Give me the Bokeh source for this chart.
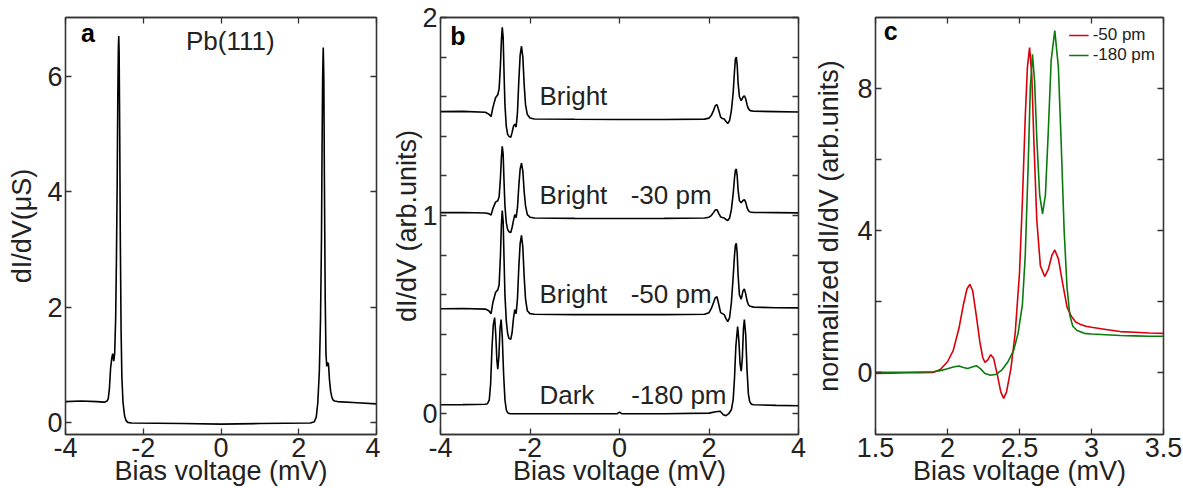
from bokeh.plotting import figure
from bokeh.models import LinearAxis, FixedTicker, Label, Legend, LegendItem, Range1d
from bokeh.layouts import row
from bokeh.embed import file_html
from bokeh.resources import INLINE

FONT = "Liberation Sans"
INK = "#222222"
FRAME = "#333333"

# ---------------- panel a: Pb(111) reference spectrum ----------------
pb_bias = [-4.0, -3.6, -3.2, -3.0, -2.93, -2.90, -2.87, -2.84, -2.81, -2.785, -2.76,
           -2.735, -2.71, -2.69, -2.67, -2.655, -2.64, -2.63, -2.62, -2.605, -2.59,
           -2.57, -2.55, -2.52, -2.48, -2.44, -2.40, -2.3, -1.0, 0.0, 1.0, 2.3, 2.40,
           2.45, 2.49, 2.53, 2.56, 2.585, 2.60, 2.615, 2.63, 2.645, 2.66, 2.68, 2.70,
           2.72, 2.74, 2.765, 2.79, 2.82, 2.85, 2.88, 2.92, 3.0, 3.5, 4.0]
pb_didv = [0.37, 0.38, 0.37, 0.36, 0.38, 0.42, 0.60, 0.95, 1.12, 1.20, 1.07,
           1.20, 1.80, 2.80, 4.20, 5.60, 6.50, 6.70, 6.40, 5.00, 3.20,
           1.60, 0.80, 0.35, 0.12, 0.04, 0.01, 0.0, -0.01, -0.02, -0.01, 0.0, 0.02,
           0.10, 0.35, 0.90, 1.80, 3.20, 4.80, 6.00, 6.50, 6.00, 4.20, 2.20, 1.20,
           0.98, 1.05, 1.02, 0.75, 0.55, 0.45, 0.40, 0.38, 0.37, 0.35, 0.33]

# ---------------- panel b: stacked spectra ----------------
bright_bias = [-4.0, -3.5, -3.0, -2.92, -2.87, -2.83, -2.77, -2.72, -2.69, -2.66, -2.64,
               -2.62, -2.60, -2.58, -2.56, -2.53, -2.50, -2.47, -2.43, -2.40, -2.37,
               -2.34, -2.31, -2.28, -2.25, -2.22, -2.19, -2.16, -2.13, -2.10, -2.06,
               -2.0, -1.9, -1.0, 0.0, 1.0, 1.9, 2.0, 2.05, 2.10, 2.14, 2.18, 2.22,
               2.26, 2.30, 2.34, 2.38, 2.42, 2.46, 2.50, 2.54, 2.57, 2.59, 2.61, 2.63,
               2.65, 2.68, 2.72, 2.76, 2.79, 2.82, 2.85, 2.88, 2.92, 3.0, 3.5, 4.0]
bright_top = [1.525, 1.526, 1.522, 1.512, 1.500, 1.545, 1.595, 1.610, 1.640, 1.760, 1.880,
              1.950, 1.900, 1.720, 1.560, 1.450, 1.410, 1.400, 1.395, 1.420, 1.450,
              1.462, 1.447, 1.520, 1.680, 1.810, 1.855, 1.800, 1.660, 1.560, 1.510,
              1.493, 1.488, 1.486, 1.485, 1.485, 1.487, 1.492, 1.505, 1.530, 1.555, 1.560, 1.530,
              1.497, 1.490, 1.488, 1.475, 1.465, 1.480, 1.530, 1.620, 1.730, 1.790, 1.800, 1.760,
              1.670, 1.600, 1.580, 1.598, 1.605, 1.590, 1.560, 1.540, 1.530, 1.527, 1.525, 1.523]
bright_30pm = [1.015, 1.016, 1.013, 1.010, 1.003, 1.035, 1.068, 1.075, 1.095, 1.190, 1.290,
               1.350, 1.310, 1.170, 1.050, 0.965, 0.930, 0.918, 0.915, 0.940, 0.975,
               1.005, 0.990, 1.040, 1.150, 1.235, 1.265, 1.225, 1.120, 1.050, 1.005,
               0.992, 0.988, 0.986, 0.985, 0.986, 0.988, 0.992, 1.000, 1.015, 1.028, 1.030, 1.010,
               0.993, 0.990, 0.988, 0.980, 0.975, 0.988, 1.030, 1.110, 1.190, 1.228, 1.235, 1.200,
               1.130, 1.075, 1.065, 1.076, 1.080, 1.068, 1.040, 1.025, 1.018, 1.016, 1.015, 1.014]
bright_50pm = [0.530, 0.531, 0.528, 0.520, 0.505, 0.560, 0.612, 0.625, 0.650, 0.800, 0.950,
               1.025, 0.970, 0.780, 0.600, 0.470, 0.405, 0.380, 0.375, 0.410, 0.480,
               0.525, 0.505, 0.580, 0.740, 0.860, 0.900, 0.840, 0.690, 0.580, 0.520,
               0.505, 0.502, 0.500, 0.500, 0.500, 0.502, 0.510, 0.530, 0.560, 0.585, 0.590, 0.550,
               0.510, 0.505, 0.500, 0.480, 0.465, 0.485, 0.560, 0.690, 0.800, 0.850, 0.860, 0.810,
               0.700, 0.600, 0.578, 0.620, 0.630, 0.605, 0.570, 0.550, 0.542, 0.538, 0.535, 0.534]

dark_bias = [-4.0, -3.5, -3.0, -2.95, -2.91, -2.88, -2.85, -2.82, -2.79, -2.765, -2.74,
             -2.72, -2.695, -2.67, -2.645, -2.62, -2.59, -2.56, -2.53, -2.50, -2.45,
             -2.0, -1.0, -0.05, 0.0, 0.05, 1.0, 2.0, 2.15, 2.25, 2.32, 2.38, 2.44,
             2.50, 2.54, 2.57, 2.60, 2.64, 2.67, 2.695, 2.72, 2.745, 2.77, 2.79, 2.82,
             2.85, 2.88, 2.91, 2.95, 3.0, 3.5, 4.0]
dark_180pm = [0.045, 0.046, 0.048, 0.050, 0.070, 0.150, 0.330, 0.450, 0.485, 0.400, 0.270,
              0.225, 0.290, 0.430, 0.475, 0.390, 0.200, 0.070, 0.020, 0.005, 0.000,
              0.000, 0.000, 0.000, 0.008, 0.000, 0.000, 0.003, 0.010, 0.012, -0.005, -0.010, 0.000,
              0.020, 0.070, 0.180, 0.340, 0.440, 0.360, 0.250, 0.215, 0.280, 0.430, 0.475, 0.400,
              0.220, 0.100, 0.060, 0.048, 0.045, 0.042, 0.040]

# ---------------- panel c: normalized spectra, positive bias ----------------
red_bias = [1.5, 1.6, 1.7, 1.8, 1.9, 1.95, 2.0, 2.04, 2.08, 2.11, 2.135, 2.155, 2.175,
            2.20, 2.225, 2.245, 2.26, 2.28, 2.30, 2.32, 2.345, 2.37, 2.39, 2.41, 2.44,
            2.47, 2.50, 2.52, 2.54, 2.555, 2.57, 2.585, 2.60, 2.62, 2.645, 2.675, 2.70,
            2.725, 2.745, 2.77, 2.80, 2.83, 2.86, 2.89, 2.92, 2.96, 3.0, 3.1, 3.2, 3.3,
            3.4, 3.5]
norm_50pm = [-0.03, -0.02, -0.01, -0.01, 0.0, 0.08, 0.30, 0.62, 1.25, 1.90, 2.35, 2.48, 2.30,
             1.60, 0.85, 0.42, 0.28, 0.35, 0.50, 0.40, -0.05, -0.55, -0.73, -0.55, 0.10,
             1.10, 2.80, 4.80, 7.20, 8.60, 9.15, 8.40, 6.50, 4.30, 3.00, 2.70, 2.90,
             3.30, 3.45, 3.20, 2.50, 1.84, 1.58, 1.42, 1.36, 1.30, 1.27, 1.21, 1.15, 1.13,
             1.11, 1.10]
green_bias = [1.5, 1.7, 1.9, 1.95, 2.0, 2.04, 2.08, 2.11, 2.14, 2.17, 2.20, 2.23, 2.26,
              2.30, 2.34, 2.38, 2.42, 2.46, 2.49, 2.52, 2.54, 2.56, 2.575, 2.59, 2.605,
              2.62, 2.64, 2.66, 2.68, 2.70, 2.72, 2.745, 2.77, 2.79, 2.81, 2.83, 2.85,
              2.87, 2.90, 2.95, 3.0, 3.1, 3.2, 3.3, 3.4, 3.5]
norm_180pm = [0.0, 0.0, 0.02, 0.05, 0.10, 0.15, 0.18, 0.14, 0.11, 0.15, 0.19, 0.10, -0.03,
              -0.08, -0.05, 0.08, 0.30, 0.63, 1.10, 1.90, 3.30, 5.80, 8.00, 8.96, 8.20,
              6.60, 5.00, 4.47, 5.00, 6.80, 8.80, 9.63, 8.60, 6.40, 4.00, 2.40, 1.60,
              1.30, 1.18, 1.10, 1.08, 1.06, 1.04, 1.03, 1.02, 1.02]

# tick definitions
a_xticks = [-4, -2, 0, 2, 4]
a_yticks = [0, 2, 4, 6]
b_yticks = [0, 0.2, 0.4, 0.6, 0.8, 1, 1.2, 1.4, 1.6, 1.8, 2]
b_ylabels = {0: "0", 1: "1", 2: "2"}
c_xticks = [1.5, 2, 2.5, 3, 3.5]
c_yticks = [0, 2, 4, 6, 8]
c_ylabels = {0: "0", 4: "4", 8: "8"}


def style_axis(ax, ticks, labels=None, size="27px"):
    ax.ticker = FixedTicker(ticks=ticks)
    over = {}
    for t in ticks:
        if labels is None:
            over[t] = ("%g" % t)
        else:
            over[t] = labels.get(t, "")
    ax.major_label_overrides = over
    ax.major_tick_in = 6
    ax.major_tick_out = 0
    ax.minor_tick_in = 0
    ax.minor_tick_out = 0
    ax.axis_line_color = FRAME
    ax.axis_line_width = 1.3
    ax.major_tick_line_color = FRAME
    ax.major_tick_line_width = 1.3
    ax.major_label_text_font = FONT
    ax.major_label_text_font_size = size
    ax.major_label_text_color = INK
    ax.major_label_standoff = 3
    ax.axis_label_text_font = FONT
    ax.axis_label_text_font_size = "27px"
    ax.axis_label_text_font_style = "normal"
    ax.axis_label_text_color = INK


def mirror(p, xticks, yticks):
    top = LinearAxis(major_label_text_font_size="0px", major_label_standoff=0)
    right = LinearAxis(major_label_text_font_size="0px", major_label_standoff=0)
    style_axis(top, xticks, {}, size="0px")
    style_axis(right, yticks, {}, size="0px")
    top.major_label_standoff = 0
    right.major_label_standoff = 0
    p.add_layout(top, "above")
    p.add_layout(right, "right")


def panel(width, bl, br, bt, bb, xr, yr):
    p = figure(width=width, height=488, x_range=Range1d(*xr), y_range=Range1d(*yr),
               output_backend="svg", toolbar_location=None,
               min_border_left=bl, min_border_right=br,
               min_border_top=bt, min_border_bottom=bb)
    p.grid.visible = False
    p.outline_line_color = FRAME
    p.outline_line_width = 1.3
    p.background_fill_color = "white"
    p.border_fill_color = "white"
    return p


def titles(p, xlabel, ylabel, ystand):
    p.xaxis[0].axis_label = xlabel
    p.xaxis[0].axis_label_standoff = -4
    p.yaxis[0].axis_label = ylabel
    p.yaxis[0].axis_label_standoff = ystand


def tag(p, x, y, text, size="27px", bold=False):
    p.add_layout(Label(x=x, y=y, text=text, text_font=FONT, text_font_size=size,
                       text_font_style="bold" if bold else "normal",
                       text_color="black" if bold else INK,
                       text_baseline="alphabetic", text_align="left"))


# panel a
pa = panel(380, 65, 4, 17, 54, (-4, 4), (-0.2, 7.02))
pa.line(pb_bias, pb_didv, line_color="black", line_width=1.6)
style_axis(pa.xaxis[0], a_xticks)
style_axis(pa.yaxis[0], a_yticks)
titles(pa, "Bias voltage (mV)", "dI/dV(\u03bcS)", 7)
mirror(pa, a_xticks, a_yticks)
tag(pa, -3.6, 6.75, "a", size="25px", bold=True)
tag(pa, -0.9, 6.62, "Pb(111)", size="26px")

# panel b
pb = panel(430, 60, 12, 16, 54, (-4, 4), (-0.105, 2.0))
for ys in (bright_top, bright_30pm, bright_50pm):
    pb.line(bright_bias, ys, line_color="black", line_width=1.6)
pb.line(dark_bias, dark_180pm, line_color="black", line_width=1.6)
style_axis(pb.xaxis[0], a_xticks)
style_axis(pb.yaxis[0], b_yticks, b_ylabels)
titles(pb, "Bias voltage (mV)", "dI/dV (arb.units)", -3)
mirror(pb, a_xticks, b_yticks)
tag(pb, -3.78, 1.905, "b", size="25px", bold=True)
tag(pb, -1.79, 1.605, "Bright", size="26px")
tag(pb, -1.79, 1.105, "Bright", size="26px")
tag(pb, 0.25, 1.105, "-30 pm", size="26px")
tag(pb, -1.79, 0.603, "Bright", size="26px")
tag(pb, 0.25, 0.603, "-50 pm", size="26px")
tag(pb, -1.79, 0.095, "Dark", size="26px")
tag(pb, 0.26, 0.095, "-180 pm", size="26px")

# panel c
pc = panel(373, 65, 20, 16, 54, (1.5, 3.5), (-1.75, 10.0))
r_red = pc.line(red_bias, norm_50pm, line_color="#d9000b", line_width=1.6)
r_green = pc.line(green_bias, norm_180pm, line_color="#0a7a0a", line_width=1.6)
style_axis(pc.xaxis[0], c_xticks)
style_axis(pc.yaxis[0], c_yticks, c_ylabels)
titles(pc, "Bias voltage (mV)", "normalized dI/dV (arb.units)", 10)
mirror(pc, c_xticks, c_yticks)
tag(pc, 1.558, 9.61, "c", size="25px", bold=True)
legend = Legend(items=[LegendItem(label="-50 pm", renderers=[r_red]),
                       LegendItem(label="-180 pm", renderers=[r_green])],
                location="top_right", border_line_alpha=0, background_fill_alpha=0,
                label_text_font=FONT, label_text_font_size="17px", label_text_color=INK,
                glyph_width=20, glyph_height=20, label_height=20, label_standoff=4,
                spacing=0, padding=2, margin=6)
pc.add_layout(legend)

layout = row(pa, pb, pc)
open("out.html", "w").write(file_html(layout, INLINE))
